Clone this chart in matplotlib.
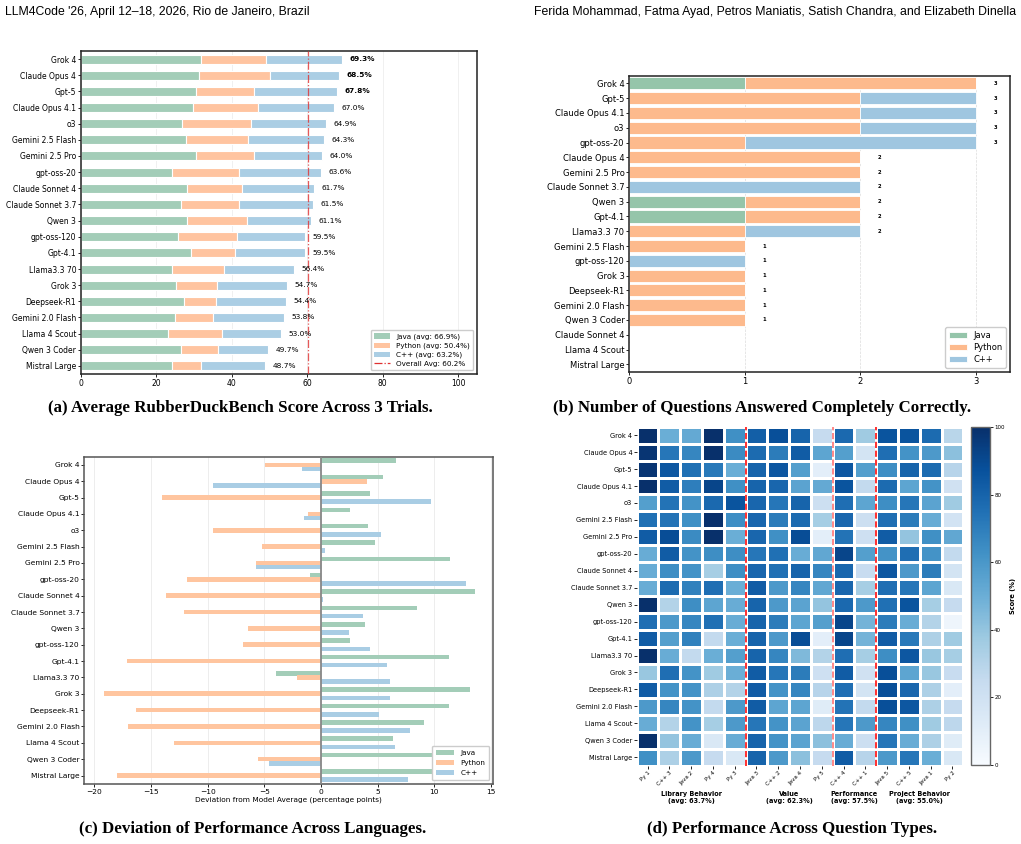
import numpy as np
import matplotlib
matplotlib.use('Agg')
import matplotlib.pyplot as plt
from matplotlib.patches import Patch
from matplotlib.lines import Line2D
import matplotlib.transforms as mtransforms

# model order used in (a), (c) and (d)
models = ['Grok 4', 'Claude Opus 4', 'Gpt-5', 'Claude Opus 4.1', 'o3', 'Gemini 2.5 Flash',
          'Gemini 2.5 Pro', 'gpt-oss-20', 'Claude Sonnet 4', 'Claude Sonnet 3.7', 'Qwen 3',
          'gpt-oss-120', 'Gpt-4.1', 'Llama3.3 70', 'Grok 3', 'Deepseek-R1', 'Gemini 2.0 Flash',
          'Llama 4 Scout', 'Qwen 3 Coder', 'Mistral Large']

# (a) stacked contributions per language
java_part = [31.9, 31.2, 30.6, 29.8, 26.9, 27.9, 30.6, 24.2, 28.2, 26.5, 28.2, 25.7, 29.1, 24.2, 25.3, 27.4, 24.8, 23.2, 26.6, 24.1]
python_part = [17.1, 18.8, 15.2, 17.2, 18.2, 16.3, 15.4, 17.8, 14.6, 15.5, 15.7, 15.6, 11.7, 13.6, 10.8, 8.5, 10.3, 14.1, 9.8, 7.8]
cpp_part = [20.3, 18.5, 22.0, 20.0, 19.8, 20.1, 18.0, 21.6, 18.9, 19.5, 17.2, 18.2, 18.7, 18.6, 18.6, 18.5, 18.7, 15.7, 13.3, 16.8]
overall = [69.3, 68.5, 67.8, 67.0, 64.9, 64.3, 64.0, 63.6, 61.7, 61.5, 61.1, 59.5, 59.5, 56.4, 54.7, 54.4, 53.8, 53.0, 49.7, 48.7]
lang_avg = {'Java': 66.9, 'Python': 50.4, 'C++': 63.2}
overall_avg = 60.2

# (b) number of fully correct questions
models_b = ['Grok 4', 'Gpt-5', 'Claude Opus 4.1', 'o3', 'gpt-oss-20', 'Claude Opus 4', 'Gemini 2.5 Pro',
            'Claude Sonnet 3.7', 'Qwen 3', 'Gpt-4.1', 'Llama3.3 70', 'Gemini 2.5 Flash', 'gpt-oss-120',
            'Grok 3', 'Deepseek-R1', 'Gemini 2.0 Flash', 'Qwen 3 Coder', 'Claude Sonnet 4', 'Llama 4 Scout',
            'Mistral Large']
java_correct = [1, 0, 0, 0, 0, 0, 0, 0, 1, 1, 0, 0, 0, 0, 0, 0, 0, 0, 0, 0]
python_correct = [2, 2, 2, 2, 1, 2, 2, 0, 1, 1, 1, 1, 0, 1, 1, 1, 1, 0, 0, 0]
cpp_correct = [0, 1, 1, 1, 2, 0, 0, 2, 0, 0, 1, 0, 1, 0, 0, 0, 0, 0, 0, 0]

# (c) deviation from model average
java_dev = [6.6, 5.5, 4.3, 2.6, 4.2, 4.8, 11.4, -1.0, 13.6, 8.5, 3.9, 2.6, 11.3, -4.0, 13.2, 11.3, 9.1, 6.4, 10.2, 10.3]
python_dev = [-4.9, 4.1, -14.0, -1.1, -9.5, -5.2, -5.7, -11.8, -13.7, -12.1, -6.4, -6.9, -17.1, -2.1, -19.2, -16.3, -17.0, -13.0, -5.6, -18.0]
cpp_dev = [-1.7, -9.5, 9.7, -1.5, 5.3, 0.4, -5.7, 12.8, 0.2, 3.7, 2.5, 4.3, 5.8, 6.1, 6.1, 5.1, 7.9, 6.5, -4.6, 7.7]

# (d) score per question
questions = ['Py 1', 'C++ 3', 'Java 2', 'Py 4', 'Py 3', 'Java 3', 'C++ 2', 'Java 4', 'Py 5',
             'C++ 4', 'C++ 1', 'Java 5', 'C++ 5', 'Java 1', 'Py 2']
groups = ['Library Behavior\n(avg: 63.7%)', 'Value\n(avg: 62.3%)',
          'Performance\n(avg: 57.5%)', 'Project Behavior\n(avg: 55.0%)']
group_sizes = [5, 4, 2, 4]
scores = [
    [100, 50, 52, 100, 63, 82, 88, 80, 25, 78, 37, 86, 86, 77, 29],
    [98, 73, 67, 100, 65, 77, 71, 83, 54, 57, 18, 76, 62, 59, 42],
    [98, 85, 75, 72, 50, 80, 85, 57, 10, 85, 57, 64, 80, 77, 30],
    [100, 83, 70, 92, 63, 80, 79, 55, 52, 86, 26, 77, 54, 62, 20],
    [57, 74, 62, 78, 86, 79, 73, 80, 22, 76, 54, 64, 73, 55, 37],
    [75, 74, 63, 100, 64, 79, 71, 77, 35, 79, 22, 76, 71, 51, 19],
    [83, 89, 65, 100, 50, 79, 63, 89, 10, 74, 21, 83, 40, 63, 53],
    [51, 83, 62, 64, 64, 73, 75, 51, 53, 92, 57, 62, 76, 62, 26],
    [51, 64, 62, 35, 64, 79, 75, 80, 67, 79, 24, 85, 59, 71, 18],
    [51, 77, 69, 76, 50, 83, 59, 67, 53, 79, 35, 76, 73, 54, 15],
    [100, 31, 64, 54, 51, 80, 59, 55, 40, 78, 59, 75, 86, 35, 25],
    [76, 59, 67, 75, 51, 80, 71, 54, 57, 92, 48, 71, 51, 31, 5],
    [83, 57, 69, 26, 50, 80, 59, 89, 10, 92, 48, 83, 72, 33, 37],
    [100, 51, 26, 50, 57, 80, 67, 45, 31, 76, 35, 64, 85, 39, 35],
    [39, 76, 62, 37, 50, 83, 73, 71, 21, 83, 20, 88, 54, 39, 24],
    [83, 62, 62, 33, 31, 83, 62, 67, 30, 76, 18, 88, 79, 33, 10],
    [59, 67, 62, 26, 59, 83, 54, 54, 12, 74, 26, 88, 85, 33, 25],
    [51, 31, 62, 35, 59, 73, 62, 55, 28, 73, 59, 67, 63, 37, 28],
    [100, 40, 51, 15, 51, 80, 62, 55, 42, 51, 22, 73, 51, 33, 12],
    [63, 33, 59, 25, 15, 80, 59, 42, 25, 83, 30, 59, 73, 50, 15],
]

fig = plt.figure(figsize=(10.21, 8.44), dpi=100)

# header and captions
hdr_font = ['Liberation Sans Narrow', 'Liberation Sans', 'DejaVu Sans']
fig.text(5 / 1021, 1 - 12 / 844, "LLM4Code '26, April 12\u201318, 2026, Rio de Janeiro, Brazil",
         family=hdr_font, fontsize=8.8, va='center', ha='left')
fig.text(1016 / 1021, 1 - 12 / 844,
         'Ferida Mohammad, Fatma Ayad, Petros Maniatis, Satish Chandra, and Elizabeth Dinella',
         family=hdr_font, fontsize=8.8, va='center', ha='right')
cap_font = ['Liberation Serif', 'DejaVu Serif']
fig.text(240 / 1021, 1 - 408 / 844, '(a) Average RubberDuckBench Score Across 3 Trials.',
         family=cap_font, fontsize=12.2, weight='bold', ha='center', va='center')
fig.text(762 / 1021, 1 - 408 / 844, '(b) Number of Questions Answered Completely Correctly.',
         family=cap_font, fontsize=12.2, weight='bold', ha='center', va='center')
fig.text(253 / 1021, 1 - 829 / 844, '(c) Deviation of Performance Across Languages.',
         family=cap_font, fontsize=12.2, weight='bold', ha='center', va='center')
fig.text(792 / 1021, 1 - 829 / 844, '(d) Performance Across Question Types.',
         family=cap_font, fontsize=12.2, weight='bold', ha='center', va='center')

# ---------------- (a) ----------------
ca = {'Java': '#a3cdb8', 'Python': '#ffc4a0', 'C++': '#abcee4'}
ax = fig.add_axes([81 / 1021, 1 - 374 / 844, 396 / 1021, 323 / 844])
y = np.arange(len(models))
j = np.array(java_part)
p = np.array(python_part)
c = np.array(cpp_part)
ax.barh(y, j, height=0.56, color=ca['Java'], edgecolor='white', linewidth=0.8, zorder=2)
ax.barh(y, p, left=j, height=0.56, color=ca['Python'], edgecolor='white', linewidth=0.8, zorder=2)
ax.barh(y, c, left=j + p, height=0.56, color=ca['C++'], edgecolor='white', linewidth=0.8, zorder=2)
ax.axvline(overall_avg, color='#e03030', linestyle='-.', linewidth=0.9, alpha=0.8, zorder=3)
for i in range(len(models)):
    ax.text(overall[i] + 2, y[i], '%.1f%%' % overall[i], fontsize=5.3, va='center', ha='left',
            weight='bold' if i < 3 else 'normal')
ax.set_yticks(y)
ax.set_yticklabels(models)
ax.set_ylim(19.5, -0.5)
ax.set_xlim(0, 105)
ax.set_xticks([0, 20, 40, 60, 80, 100])
ax.grid(axis='x', color='#dddddd', linewidth=0.5, alpha=0.6, zorder=0)
ax.set_axisbelow(True)
ax.tick_params(labelsize=5.5, length=2, width=0.6, pad=1.5)
for s in ax.spines.values():
    s.set_linewidth(1.1)
    s.set_color('#222222')
handles = [Patch(facecolor=ca['Java'], label='Java (avg: %.1f%%)' % lang_avg['Java']),
           Patch(facecolor=ca['Python'], label='Python (avg: %.1f%%)' % lang_avg['Python']),
           Patch(facecolor=ca['C++'], label='C++ (avg: %.1f%%)' % lang_avg['C++']),
           Line2D([0], [0], color='#e03030', linestyle='-.', linewidth=0.9,
                  label='Overall Avg: %.1f%%' % overall_avg)]
ax.legend(handles=handles, loc='lower right', fontsize=5.2, framealpha=1, fancybox=True,
          borderpad=0.5, handlelength=2.2, labelspacing=0.35, edgecolor='#cccccc')

# ---------------- (b) ----------------
cb = {'Java': '#95c5aa', 'Python': '#fdba8d', 'C++': '#9fc6e0'}
ax = fig.add_axes([629.3 / 1021, 1 - 371.7 / 844, 381 / 1021, 295.7 / 844])
yb = np.arange(len(models_b))
jb = np.array(java_correct)
pb = np.array(python_correct)
cbb = np.array(cpp_correct)
ax.barh(yb, jb, height=0.82, color=cb['Java'], edgecolor='white', linewidth=0.6, label='Java', zorder=2)
ax.barh(yb, pb, left=jb, height=0.82, color=cb['Python'], edgecolor='white', linewidth=0.6,
        label='Python', zorder=2)
ax.barh(yb, cbb, left=jb + pb, height=0.82, color=cb['C++'], edgecolor='white', linewidth=0.6,
        label='C++', zorder=2)
tot = jb + pb + cbb
for i in range(len(models_b)):
    if tot[i] > 0:
        ax.text(tot[i] + 0.17, yb[i], str(tot[i]), fontsize=3.8, weight='bold', ha='center', va='center')
ax.set_yticks(yb)
ax.set_yticklabels(models_b)
ax.set_ylim(19.5, -0.5)
ax.set_xlim(0, 3.3)
ax.set_xticks([0, 1, 2, 3])
ax.grid(axis='x', color='#cccccc', linestyle='--', linewidth=0.5, alpha=0.7, zorder=0)
ax.set_axisbelow(True)
ax.tick_params(labelsize=6, length=2, width=0.6, pad=1.5)
for s in ax.spines.values():
    s.set_linewidth(1.1)
    s.set_color('#222222')
ax.legend(loc='lower right', fontsize=6, framealpha=1, edgecolor='#cccccc', handlelength=2.2,
          labelspacing=0.4)

# ---------------- (c) ----------------
cc = {'Java': '#a3cdb8', 'Python': '#ffc59f', 'C++': '#a9cde4'}
ax = fig.add_axes([84.3 / 1021, 1 - 783.7 / 844, 408.7 / 1021, 327 / 844])
yc = np.arange(len(models))
ax.barh(yc - 0.25, java_dev, height=0.28, color=cc['Java'], label='Java', zorder=2)
ax.barh(yc, python_dev, height=0.28, color=cc['Python'], label='Python', zorder=2)
ax.barh(yc + 0.25, cpp_dev, height=0.28, color=cc['C++'], label='C++', zorder=2)
ax.axvline(0, color='#888888', linewidth=1.3, zorder=3)
ax.set_yticks(yc)
ax.set_yticklabels(models)
ax.set_ylim(19.5, -0.5)
ax.set_xlim(-20.9, 15.2)
ax.set_xticks([-20, -15, -10, -5, 0, 5, 10, 15])
ax.set_xticklabels(['\u221220', '\u221215', '\u221210', '\u22125', '0', '5', '10', '15'])
ax.set_xlabel('Deviation from Model Average (percentage points)', fontsize=5.3, labelpad=1.5)
ax.grid(axis='x', color='#e6e6e6', linewidth=0.5, zorder=0)
ax.set_axisbelow(True)
ax.tick_params(labelsize=5.4, length=2, width=0.6, pad=1.5)
for s in ax.spines.values():
    s.set_linewidth(1.1)
    s.set_color('#555555')
ax.legend(loc='lower right', fontsize=5.2, framealpha=1, edgecolor='#cccccc', handlelength=2.5,
          labelspacing=0.5, borderpad=0.6)

# ---------------- (d) ----------------
ax = fig.add_axes([636.7 / 1021, 1 - 765.7 / 844, 326.6 / 1021, 339 / 844])
cax = fig.add_axes([971 / 1021, 1 - 765 / 844, 19 / 1021, 337.7 / 844])
data = np.array(scores, dtype=float)
mesh = ax.pcolormesh(np.arange(data.shape[1] + 1) - 0.5, np.arange(data.shape[0] + 1) - 0.5, data,
                     cmap='Blues', vmin=0, vmax=100, edgecolors='white', linewidth=0.9)
ax.set_xlim(-0.5, data.shape[1] - 0.5)
ax.set_ylim(data.shape[0] - 0.5, -0.5)
ax.set_xticks(np.arange(len(questions)))
ax.set_xticklabels(questions, rotation=45, ha='right', rotation_mode='anchor')
ax.set_yticks(np.arange(len(models)))
ax.set_yticklabels(models)
ax.tick_params(axis='y', labelsize=4.8, length=2, width=0.6, pad=1.2)
ax.tick_params(axis='x', labelsize=4.0, length=2, width=0.6, pad=1.2)
for s in ax.spines.values():
    s.set_visible(False)
edges = np.cumsum(group_sizes)[:-1]
for k, e in enumerate(edges):
    ax.axvline(e - 0.5, color='red', linestyle='--', linewidth=1.2, alpha=0.55 if k == 1 else 0.95)
trans = mtransforms.blended_transform_factory(ax.transData, ax.transAxes)
start = 0
for g, n in zip(groups, group_sizes):
    ax.text(start + n / 2 - 0.5, -0.094, g, transform=trans, ha='center', va='center',
            fontsize=4.7, weight='bold', linespacing=1.15)
    start += n
cbar = fig.colorbar(mesh, cax=cax)
cbar.set_ticks([0, 20, 40, 60, 80, 100])
cbar.ax.tick_params(labelsize=4.0, length=2, width=0.6, pad=1)
cbar.outline.set_edgecolor('#666666')
cbar.outline.set_linewidth(1)
cbar.set_label('Score (%)', fontsize=4.8, weight='bold', labelpad=4)

fig.savefig('out.png', dpi=100)
